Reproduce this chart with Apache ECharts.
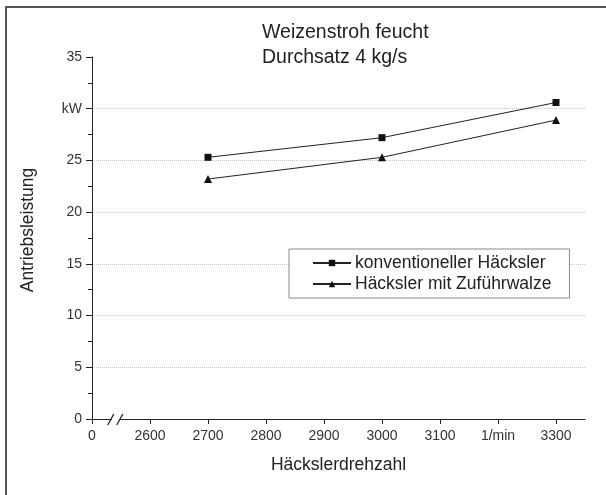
<!DOCTYPE html>
<html>
<head>
<meta charset="utf-8">
<script src="https://cdn.jsdelivr.net/npm/echarts@6/dist/echarts.min.js"></script>
<style>
html,body{margin:0;padding:0;background:#fff;}
#chart{width:606px;height:495px;}
</style>
</head>
<body>
<div id="chart"></div>
<script>
// ---- data ----
const speeds = [2700, 3000, 3300];
const conventional = [25.3, 27.2, 30.6];
const withFeedRoller = [23.2, 25.3, 28.9];
const seriesNames = ['konventioneller Häcksler', 'Häcksler mit Zuführwalze'];
const xTickValues = [2500, 2600, 2700, 2800, 2900, 3000, 3100, 3200, 3300];
const xTickLabels = ['0', '2600', '2700', '2800', '2900', '3000', '3100', '1/min', '3300'];
const yTickLabels = ['0', '5', '10', '15', '20', '25', 'kW', '35'];
const titleLines = ['Weizenstroh feucht', 'Durchsatz 4 kg/s'];

const FONT = 'Liberation Sans, Arial, sans-serif';
const chart = echarts.init(document.getElementById('chart'));

const xLabelMap = {};
xTickValues.forEach((v, i) => { xLabelMap[v] = xTickLabels[i]; });

chart.setOption({
  animation: false,
  backgroundColor: '#fff',
  title: {
    text: titleLines.join('\n'),
    left: 262, top: 20, padding: 0,
    textStyle: { fontFamily: FONT, fontSize: 19.5, fontWeight: 'normal', color: '#222', lineHeight: 25 }
  },
  legend: {
    orient: 'vertical',
    left: 289, top: 249,
    padding: [5, 18, 5, 23],
    itemWidth: 38, itemHeight: 8, itemGap: 3,
    borderColor: '#888', borderWidth: 1,
    backgroundColor: '#fff',
    textStyle: { fontFamily: FONT, fontSize: 17.5, color: '#222', padding: [0, 0, 0, -1] },
    data: seriesNames
  },
  grid: { left: 92, top: 57, right: 21, bottom: 76, containLabel: false, outerBoundsMode: 'none' },
  xAxis: {
    type: 'value', min: 2500, max: 3350, interval: 100,
    name: 'Häckslerdrehzahl', nameLocation: 'middle', nameGap: 37,
    nameTextStyle: { fontFamily: FONT, fontSize: 17.5, color: '#222' },
    axisLine: { show: true, lineStyle: { color: '#222', width: 1 } },
    axisTick: { show: true, length: 5, lineStyle: { color: '#222' }, customValues: xTickValues },
    axisLabel: {
      show: true, margin: 10, fontFamily: FONT, fontSize: 14, color: '#333',
      customValues: xTickValues,
      formatter: v => xLabelMap[v] !== undefined ? xLabelMap[v] : ''
    },
    splitLine: { show: false }
  },
  yAxis: {
    type: 'value', min: 0, max: 35, interval: 5,
    name: 'Antriebsleistung', nameLocation: 'middle', nameGap: 55,
    nameTextStyle: { fontFamily: FONT, fontSize: 17.5, color: '#222', padding: [0, 0, 0, 16] },
    axisLine: { show: true, lineStyle: { color: '#222', width: 1 } },
    axisTick: { show: true, length: 6, lineStyle: { color: '#222' } },
    minorTick: { show: true, splitNumber: 2, length: 4, lineStyle: { color: '#222' } },
    axisLabel: {
      margin: 10, fontFamily: FONT, fontSize: 14, color: '#333',
      formatter: v => yTickLabels[Math.round(v / 5)]
    },
    splitLine: { show: true, showMinLine: false, showMaxLine: false, lineStyle: { color: '#c4c4c4', type: 'dotted', width: 1 } }
  },
  series: [
    {
      name: seriesNames[0], type: 'line',
      data: speeds.map((s, i) => [s, conventional[i]]),
      symbol: 'rect', symbolSize: 7,
      itemStyle: { color: '#111' },
      lineStyle: { color: '#222', width: 1 }
    },
    {
      name: seriesNames[1], type: 'line',
      data: speeds.map((s, i) => [s, withFeedRoller[i]]),
      symbol: 'triangle', symbolSize: 8,
      itemStyle: { color: '#111' },
      lineStyle: { color: '#222', width: 1 }
    }
  ]
});

// axis break marks and frame (decoration)
const bx = chart.convertToPixel({ xAxisIndex: 0 }, 2541);
const by = chart.convertToPixel({ yAxisIndex: 0 }, 0);
chart.setOption({
  graphic: [
    { type: 'rect', shape: { x: bx - 4, y: by - 2, width: 8, height: 4 }, style: { fill: '#fff' }, z: 100 },
    { type: 'line', shape: { x1: bx - 8, y1: by + 6, x2: bx - 2, y2: by - 5 }, style: { stroke: '#222', lineWidth: 1.3 }, z: 101 },
    { type: 'line', shape: { x1: bx + 1, y1: by + 6, x2: bx + 7, y2: by - 5 }, style: { stroke: '#222', lineWidth: 1.3 }, z: 101 },
    { type: 'polyline', shape: { points: [[6, 495], [6, 7], [606, 7]] }, style: { stroke: '#555', lineWidth: 2, fill: null }, z: 100 }
  ]
});
</script>
</body>
</html>
